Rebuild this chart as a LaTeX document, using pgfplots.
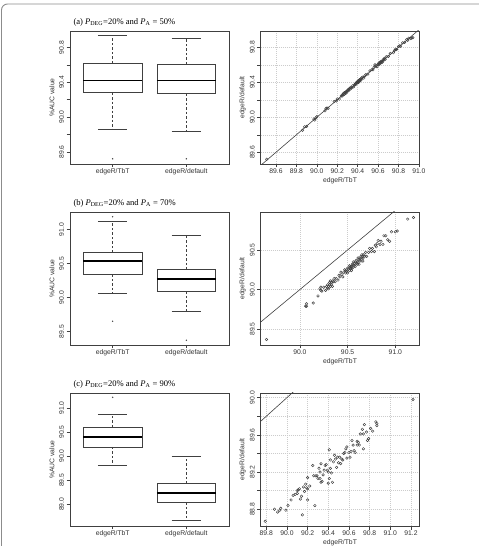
\documentclass[border=0pt]{standalone}
\usepackage{pgfplots}
\pgfplotsset{compat=1.18}
\usepackage{fontspec}
\setmainfont{Liberation Serif}
\setsansfont{Liberation Sans}

\newcommand\tickfont{\sffamily\fontsize{6.8}{8}\selectfont}
\newcommand\titlefont{\rmfamily\fontsize{8.6}{10}\selectfont}
\definecolor{ink}{gray}{0.25}

\pgfplotsset{
  % R-like frame: box around the panel, outward ticks on left/bottom only
  rpanel/.style={
    scale only axis, height=133bp,
    axis line style={ink, line width=0.6bp},
    tick style={ink, line width=0.5bp},
    tick align=outside, xtick pos=bottom, ytick pos=left,
    major tick length=3.5bp, minor tick length=3.5bp,
    tick label style={font=\tickfont, text=black!80},
    /pgf/number format/fixed, /pgf/number format/fixed zerofill,
    /pgf/number format/precision=1, /pgf/number format/assume math mode=true,
    yticklabel style={rotate=90, anchor=south, inner xsep=0pt, inner ysep=2.3bp},
    xticklabel style={anchor=north, inner sep=1.2bp},
    every axis y label/.style={at={(rel axis cs:0,0.5)}, xshift=-18bp, rotate=90,
      anchor=center, font=\tickfont, text=black!80},
    every axis x label/.style={at={(rel axis cs:0.5,0)}, yshift=-17bp,
      anchor=center, font=\tickfont, text=black!80},
    every axis title/.style={at={(0,1)}, anchor=base west, xshift=3.3bp, yshift=6bp,
      inner sep=0pt, font=\titlefont, text=black},
  },
  rbox/.style={rpanel, width=159bp, xmin=0.42, xmax=2.58, xtick={1,2},
    xticklabels={edgeR/TbT,edgeR/default}, ylabel={\%AUC value}, clip=false},
  rscat/.style={rpanel, width=158.5bp, grid=both,
    major grid style={black!20, line width=0.45bp, dash pattern=on 0.7bp off 1.3bp},
    minor grid style={black!20, line width=0.45bp, dash pattern=on 0.7bp off 1.3bp},
    xlabel={edgeR/TbT}, ylabel={edgeR/default},
  },
  pts/.style={only marks, mark=o, mark size=1.3bp, ink, mark options={line width=0.45bp}},
  diag/.style={ink, line width=0.6bp},
  outl/.style={only marks, mark=o, mark size=0.5bp, ink, mark options={line width=0.4bp}},
  bline/.style={ink, line width=0.6bp},
  bdash/.style={ink, line width=0.6bp, dash pattern=on 2.5bp off 2bp},
}

% One R-style box: #1 group (1 or 2), #2 lower whisker, #3 lower quartile,
% #4 median, #5 upper quartile, #6 upper whisker
\newcommand\rbox[6]{%
  \ifnum#1=1 \def\boxL{0.6}\def\boxR{1.4}\def\capL{0.8}\def\capR{1.2}\def\boxC{1}%
  \else \def\boxL{1.6}\def\boxR{2.4}\def\capL{1.8}\def\capR{2.2}\def\boxC{2}\fi
  \addplot[bdash] coordinates {(\boxC,#3) (\boxC,#2)};
  \addplot[bdash] coordinates {(\boxC,#5) (\boxC,#6)};
  \addplot[bline] coordinates {(\capL,#2) (\capR,#2)};
  \addplot[bline] coordinates {(\capL,#6) (\capR,#6)};
  \addplot[bline, line join=miter] coordinates {(\boxL,#3) (\boxR,#3) (\boxR,#5) (\boxL,#5) (\boxL,#3) (\boxR,#3)};
  \addplot[black, line width=1.8bp] coordinates {(\boxL,#4) (\boxR,#4)};
}

\begin{document}
\begin{tikzpicture}
\useasboundingbox (0,0) rectangle (479bp,546bp);

%% ---------------- row (a) ----------------
\begin{axis}[rbox, name=boxa, at={(70bp,515bp)}, anchor=north west,
  title={(a) \textit{P}\textsubscript{DEG}=20\% and \textit{P}\textsubscript{A} = 50\%},
  ymin=89.46, ymax=90.99, ytick={89.6,90.0,90.4,90.8}, minor ytick={89.8,90.2,90.6}]
\rbox{1}{89.86}{90.28}{90.42}{90.62}{90.94}
\rbox{2}{89.84}{90.27}{90.42}{90.61}{90.91}
\addplot[outl] coordinates {(1,89.52) (2,89.52)};
\end{axis}

\begin{axis}[rscat, at={(260.7bp,515bp)}, anchor=north west,
  xmin=89.45, xmax=91.003, ymin=89.466, ymax=90.986,
  xtick={89.6,89.8,90.0,90.2,90.4,90.6,90.8,91.0},
  ytick={89.6,90.0,90.4,90.8}, minor ytick={89.8,90.2,90.6}]
\addplot[diag] coordinates {(89,89) (92,92)};
\addplot[pts] coordinates {
(89.51,89.52) (89.86,89.852) (89.88,89.891) (89.90,89.896) (89.97,89.979)
(89.98,89.968) (89.99,89.993) (90.00,90.007) (90.08,90.074) (90.09,90.100)
(90.10,90.106) (90.11,90.102) (90.17,90.181) (90.19,90.186) (90.20,90.209)
(90.22,90.208) (90.24,90.243) (90.25,90.257) (90.25,90.244) (90.26,90.270)
(90.26,90.266) (90.27,90.262) (90.27,90.281) (90.28,90.276) (90.28,90.289)
(90.29,90.278) (90.29,90.293) (90.30,90.307) (90.31,90.304) (90.31,90.320)
(90.32,90.326) (90.33,90.322) (90.33,90.341) (90.34,90.336) (90.35,90.359)
(90.36,90.348) (90.37,90.373) (90.38,90.387) (90.38,90.374) (90.39,90.400)
(90.39,90.396) (90.40,90.392) (90.40,90.411) (90.40,90.396) (90.41,90.419)
(90.41,90.398) (90.41,90.413) (90.42,90.427) (90.42,90.414) (90.42,90.430)
(90.43,90.436) (90.43,90.422) (90.44,90.451) (90.44,90.436) (90.45,90.459)
(90.46,90.448) (90.47,90.473) (90.48,90.487) (90.50,90.494) (90.52,90.530)
(90.54,90.546) (90.55,90.542) (90.56,90.571) (90.57,90.600) (90.58,90.589)
(90.59,90.578) (90.60,90.603) (90.60,90.607) (90.61,90.604) (90.61,90.620)
(90.62,90.626) (90.62,90.612) (90.62,90.631) (90.63,90.626) (90.63,90.639)
(90.64,90.628) (90.64,90.643) (90.65,90.657) (90.65,90.644) (90.66,90.670)
(90.66,90.666) (90.67,90.662) (90.68,90.691) (90.70,90.696) (90.72,90.729)
(90.75,90.738) (90.76,90.763) (90.77,90.777) (90.78,90.774) (90.80,90.810)
(90.81,90.816) (90.82,90.812) (90.84,90.851) (90.86,90.856) (90.88,90.889)
(90.89,90.878) (90.90,90.903) (90.92,90.900) (90.93,90.905) (90.94,90.910)
};
\end{axis}

%% ---------------- row (b) ----------------
\begin{axis}[rbox, name=boxb, at={(70bp,334bp)}, anchor=north west,
  title={(b) \textit{P}\textsubscript{DEG}=20\% and \textit{P}\textsubscript{A} = 70\%},
  ymin=89.30, ymax=91.26, ytick={89.5,90.0,90.5,91.0}]
\rbox{1}{90.06}{90.34}{90.54}{90.66}{91.13}
\rbox{2}{89.79}{90.09}{90.27}{90.41}{90.91}
\addplot[outl] coordinates {(1,91.19) (1,89.65) (2,89.37)};
\end{axis}

\begin{axis}[rscat, at={(260.7bp,334bp)}, anchor=north west,
  xmin=89.59, xmax=91.25, ymin=89.30, ymax=90.98,
  xtick={90.0,90.5,91.0}, ytick={89.5,90.0,90.5}]
\addplot[diag] coordinates {(89,89) (92,92)};
\addplot[pts] coordinates {
(89.65,89.37) (90.06,89.79) (90.07,89.82) (90.07,89.79) (90.14,89.83)
(90.19,89.92) (90.21,90.01) (90.22,89.99) (90.22,90.03) (90.23,89.98)
(90.25,90.03) (90.27,89.99) (90.28,90.04) (90.29,90.02) (90.29,90.06)
(90.30,90.04) (90.30,90.01) (90.31,90.09) (90.31,90.06) (90.32,90.04)
(90.32,90.11) (90.33,90.07) (90.33,90.09) (90.34,90.04) (90.34,90.11)
(90.35,90.10) (90.36,90.14) (90.37,90.10) (90.38,90.14) (90.40,90.12)
(90.41,90.18) (90.42,90.16) (90.43,90.22) (90.44,90.19) (90.45,90.16)
(90.46,90.22) (90.47,90.25) (90.48,90.21) (90.48,90.24) (90.49,90.23)
(90.50,90.21) (90.50,90.27) (90.51,90.26) (90.52,90.24) (90.52,90.30)
(90.53,90.27) (90.53,90.29) (90.54,90.27) (90.54,90.24) (90.54,90.29)
(90.55,90.32) (90.55,90.27) (90.56,90.31) (90.56,90.35) (90.57,90.30)
(90.57,90.33) (90.58,90.29) (90.58,90.35) (90.59,90.33) (90.59,90.37)
(90.60,90.32) (90.60,90.35) (90.61,90.40) (90.61,90.34) (90.62,90.38)
(90.62,90.32) (90.63,90.40) (90.63,90.37) (90.64,90.42) (90.64,90.36)
(90.65,90.40) (90.65,90.44) (90.66,90.39) (90.66,90.42) (90.66,90.36)
(90.67,90.44) (90.68,90.42) (90.69,90.47) (90.70,90.42) (90.72,90.47)
(90.73,90.52) (90.75,90.48) (90.76,90.52) (90.78,90.48) (90.79,90.56)
(90.80,90.54) (90.81,90.58) (90.82,90.62) (90.84,90.57) (90.85,90.61)
(90.87,90.57) (90.88,90.68) (90.90,90.68) (90.92,90.63) (90.94,90.61)
(90.96,90.73) (91.00,90.73) (91.02,90.74) (91.13,90.89) (91.19,90.91)
};
\end{axis}

%% ---------------- row (c) ----------------
\begin{axis}[rbox, name=boxc, at={(70bp,153bp)}, anchor=north west,
  title={(c) \textit{P}\textsubscript{DEG}=20\% and \textit{P}\textsubscript{A} = 90\%},
  ymin=88.55, ymax=91.31, ytick={89.0,89.5,90.0,90.5,91.0}]
\rbox{1}{89.81}{90.19}{90.40}{90.60}{90.86}
\rbox{2}{88.66}{89.04}{89.24}{89.43}{89.99}
\addplot[outl] coordinates {(1,91.22)};
\end{axis}

\begin{axis}[rscat, at={(260.7bp,153bp)}, anchor=north west,
  xmin=89.746, xmax=91.28, ymin=88.62, ymax=90.05,
  xtick={89.8,90.0,90.2,90.4,90.6,90.8,91.0,91.2},
  ytick={88.8,89.2,89.6,90.0}, minor ytick={89.0,89.4,89.8}]
\addplot[diag] coordinates {(88,88) (92,92)};
\addplot[pts] coordinates {
(89.79,88.67) (89.88,88.80) (89.91,88.77) (89.93,88.79) (89.94,88.81)
(89.99,88.79) (90.01,88.84) (90.04,88.90) (90.06,88.95) (90.08,88.96)
(90.10,88.97) (90.10,89.00) (90.11,89.01) (90.12,89.02) (90.13,88.91)
(90.14,88.94) (90.15,88.74) (90.16,89.04) (90.17,88.99) (90.18,89.07)
(90.19,89.03) (90.20,89.14) (90.20,88.90) (90.20,89.02) (90.22,89.05)
(90.25,89.27) (90.26,89.16) (90.27,88.84) (90.28,89.16) (90.29,89.16)
(90.30,89.13) (90.31,89.24) (90.32,89.20) (90.32,89.13) (90.33,89.29)
(90.33,89.09) (90.34,89.10) (90.35,89.17) (90.36,89.22) (90.37,89.27)
(90.38,89.28) (90.39,89.22) (90.40,89.20) (90.40,89.08) (90.41,89.13)
(90.41,89.44) (90.42,89.33) (90.42,89.24) (90.43,89.19) (90.44,89.09)
(90.45,89.31) (90.46,89.38) (90.47,89.34) (90.48,89.25) (90.49,89.36)
(90.50,89.30) (90.51,89.36) (90.52,89.29) (90.53,89.34) (90.54,89.33)
(90.55,89.40) (90.56,89.41) (90.57,89.45) (90.58,89.47) (90.58,89.35)
(90.60,89.41) (90.61,89.36) (90.62,89.42) (90.63,89.54) (90.64,89.49)
(90.65,89.43) (90.66,89.41) (90.68,89.49) (90.68,89.53) (90.69,89.52)
(90.70,89.49) (90.71,89.61) (90.73,89.66) (90.74,89.61) (90.74,89.45)
(90.75,89.71) (90.77,89.63) (90.78,89.54) (90.79,89.56) (90.81,89.67)
(90.83,89.64) (90.86,89.74) (90.87,89.72) (90.87,89.70) (91.22,89.98)
};
\end{axis}

% frames of the three box-plot panels, traced on the named axis corners
\foreach \p in {boxa,boxb,boxc}
  \draw[ink, line width=0.7bp] (\p.south west) rectangle (\p.north east);

% outer figure frame (top and left edges)
\draw[black!45, line width=0.9bp, rounded corners=6bp]
  (1.5bp,0) -- (1.5bp,542bp) -- (479bp,542bp);
\end{tikzpicture}
\end{document}
